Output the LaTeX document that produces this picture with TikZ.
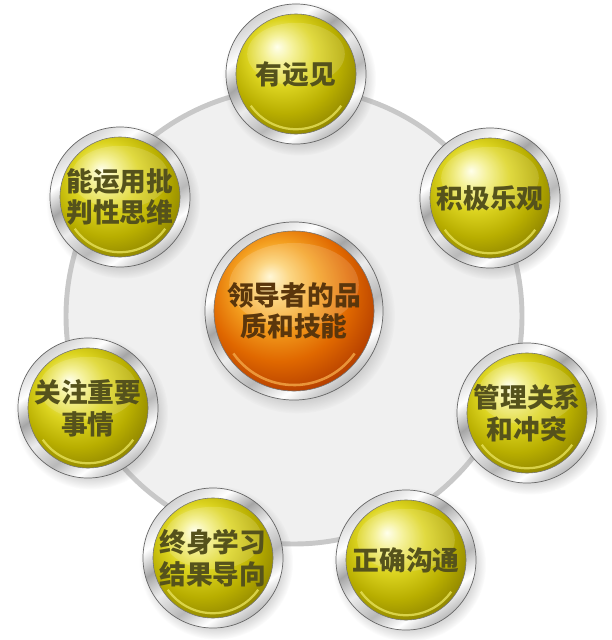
\documentclass[tikz,border=0pt]{standalone}
\usepackage{fontspec}
\newfontfamily\cjk{Noto Sans CJK SC}
\usetikzlibrary{shadows}

\definecolor{ringgray}{HTML}{C8C8C8}
\definecolor{plate}{HTML}{F0F0F0}
\definecolor{skilltext}{HTML}{55521C}
\definecolor{coretext}{HTML}{5A360C}
\definecolor{yrim}{HTML}{E8E25A}
\definecolor{orim}{HTML}{F4A848}
% yellow face
\definecolor{yc0}{HTML}{FFFFE8}
\definecolor{yc1}{HTML}{F4F08A}
\definecolor{yc2}{HTML}{DCD420}
\definecolor{yc3}{HTML}{B8AE00}
\definecolor{yc4}{HTML}{8C8200}
\definecolor{yc5}{HTML}{5E5600}
% orange face
\definecolor{oc0}{HTML}{FFF6D0}
\definecolor{oc1}{HTML}{FCD070}
\definecolor{oc2}{HTML}{F4A020}
\definecolor{oc3}{HTML}{E06800}
\definecolor{oc4}{HTML}{B43E00}
\definecolor{oc5}{HTML}{742000}

% glossy ball faces
\pgfdeclareradialshading{yellowball}{\pgfpoint{0bp}{12bp}}{%
  color(0bp)=(yc0); color(5bp)=(yc1); color(12bp)=(yc2); color(20bp)=(yc3);
  color(28bp)=(yc4); color(37bp)=(yc5); color(50bp)=(yc5)}
\pgfdeclareradialshading{orangeball}{\pgfpoint{0bp}{12bp}}{%
  color(0bp)=(oc0); color(5bp)=(oc1); color(12bp)=(oc2); color(20bp)=(oc3);
  color(28bp)=(oc4); color(37bp)=(oc5); color(50bp)=(oc5)}
% metal ring
\pgfdeclareverticalshading{silver}{100bp}{%
  color(0bp)=(gray!55); color(25bp)=(gray!55); color(32bp)=(white);
  color(40bp)=(gray!55); color(50bp)=(gray!15); color(58bp)=(gray!70);
  color(66bp)=(white); color(75bp)=(gray!35); color(100bp)=(gray!35)}

\tikzset{
  ballbase/.style={circle, inner sep=0pt, align=center,
    font=\cjk\bfseries\fontsize{19pt}{22.5pt}\selectfont,
    circular drop shadow={shadow xshift=2pt, shadow yshift=-3pt, opacity=.3},
    shading=silver, shading angle=35, draw=black!60, line width=.5pt},
  skill/.style={ballbase, minimum size=3.5cm, text=skilltext,
    path picture={
      \shadedraw[shading=yellowball, draw=black!55, line width=.4pt]
        (path picture bounding box.center) circle (1.5cm);
      \draw[yrim, line width=1.6pt, opacity=.8]
        ([shift={(215:1.38cm)}]path picture bounding box.center) arc (215:325:1.38cm);
      \fill[white, opacity=.15] ([yshift=.5cm]path picture bounding box.center) ellipse (1.22cm and .78cm);
    }},
  core/.style={ballbase, minimum size=4.45cm, text=coretext,
    path picture={
      \shadedraw[shading=orangeball, draw=black!55, line width=.4pt]
        (path picture bounding box.center) circle (2cm);
      \draw[orim, line width=1.8pt, opacity=.8]
        ([shift={(215:1.85cm)}]path picture bounding box.center) arc (215:325:1.85cm);
      \fill[white, opacity=.15] ([yshift=.65cm]path picture bounding box.center) ellipse (1.62cm and 1.05cm);
    }}
}

\begin{document}
\begin{tikzpicture}[x=0.025cm, y=-0.025cm]
    \useasboundingbox (0,0) rectangle (612,640);
    % grey plate behind the balls
    \draw[ringgray, line width=3.5pt, fill=plate] (294,316) circle[radius=228];
    % centre
    \node[core] (core) at (294,311) {领导者的品\\质和技能};
    % ring of skills
    \node[skill] (vision) at (296,74) {有远见};
    \node[skill] (optimism) at (490,198) {积极乐观};
    \node[skill] (relations) at (527,413) {管理关系\\和冲突};
    \node[skill] (communication) at (406,560) {正确沟通};
    \node[skill] (learning) at (213,558) {终身学习\\结果导向};
    \node[skill] (focus) at (88,408) {关注重要\\事情};
    \node[skill] (critical) at (120,197) {能运用批\\判性思维};
\end{tikzpicture}
\end{document}
